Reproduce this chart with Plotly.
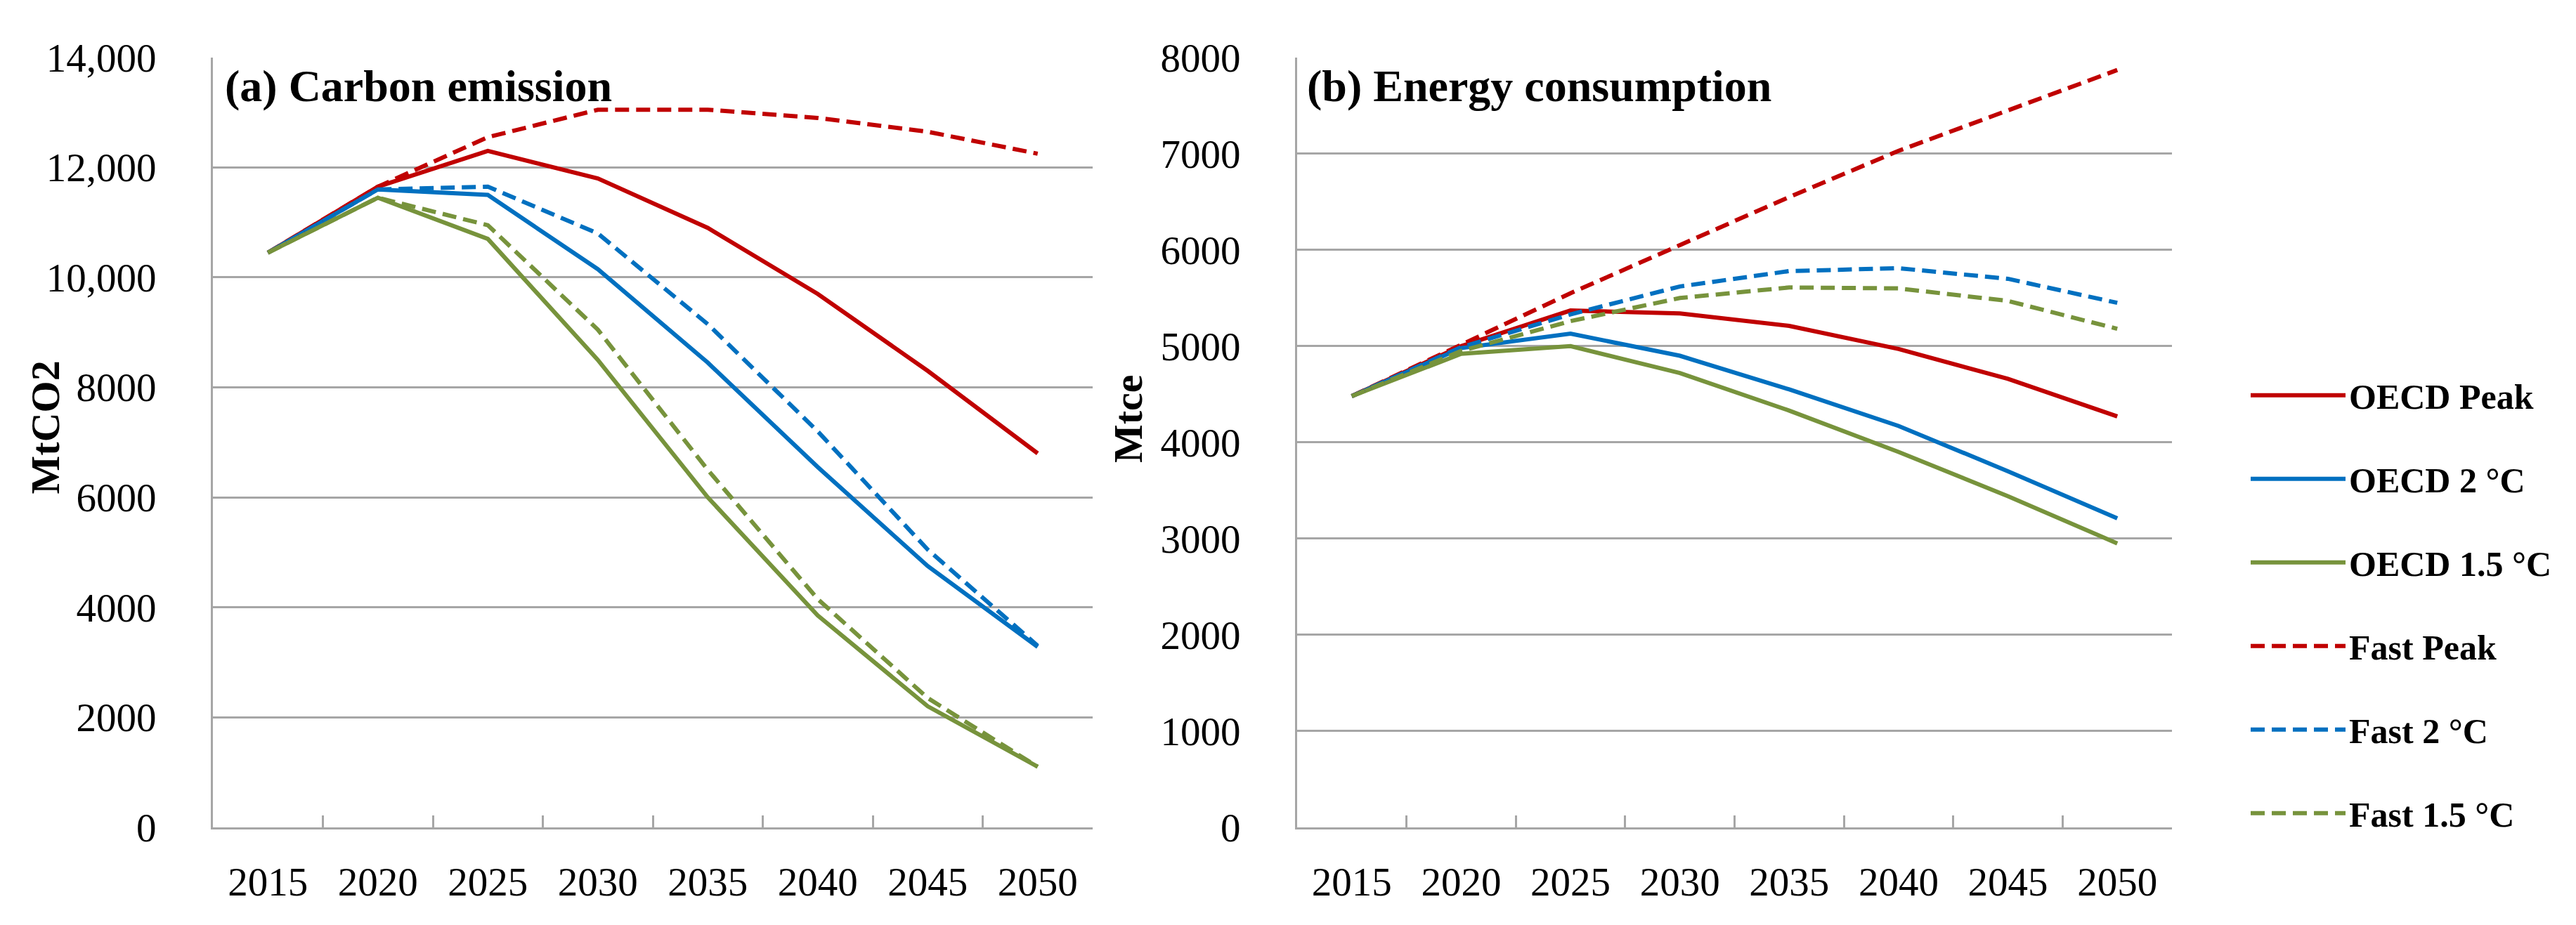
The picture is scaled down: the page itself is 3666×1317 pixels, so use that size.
import plotly.graph_objects as go

years = ["2015", "2020", "2025", "2030", "2035", "2040", "2045", "2050"]
series_names = ["OECD Peak", "OECD 2 °C", "OECD 1.5 °C", "Fast Peak", "Fast 2 °C", "Fast 1.5 °C"]

# (a) Carbon emission, MtCO2
carbon_oecd_peak = [10450, 11650, 12300, 11800, 10900, 9700, 8300, 6800]
carbon_oecd_2c = [10450, 11600, 11500, 10150, 8450, 6550, 4750, 3280]
carbon_oecd_15c = [10450, 11450, 10700, 8500, 6000, 3850, 2200, 1100]
carbon_fast_peak = [10450, 11650, 12550, 13050, 13050, 12900, 12650, 12250]
carbon_fast_2c = [10450, 11600, 11650, 10800, 9150, 7200, 5050, 3300]
carbon_fast_15c = [10450, 11450, 10950, 9050, 6500, 4150, 2350, 1100]

# (b) Energy consumption, Mtce
energy_oecd_peak = [4480, 5000, 5370, 5340, 5210, 4970, 4660, 4270]
energy_oecd_2c = [4480, 4980, 5130, 4900, 4550, 4170, 3700, 3210]
energy_oecd_15c = [4480, 4920, 5000, 4720, 4330, 3900, 3440, 2950]
energy_fast_peak = [4480, 5020, 5550, 6050, 6550, 7030, 7450, 7870]
energy_fast_2c = [4480, 4990, 5330, 5620, 5780, 5810, 5700, 5450]
energy_fast_15c = [4480, 4950, 5260, 5500, 5610, 5600, 5470, 5180]

carbon_ticks = [0, 2000, 4000, 6000, 8000, 10000, 12000, 14000]
carbon_ticktext = ["0", "2000", "4000", "6000", "8000", "10,000", "12,000", "14,000"]
energy_ticks = [0, 1000, 2000, 3000, 4000, 5000, 6000, 7000, 8000]
energy_ticktext = ["0", "1000", "2000", "3000", "4000", "5000", "6000", "7000", "8000"]

colors = ["#C00000", "#0070C0", "#77933C", "#C00000", "#0070C0", "#77933C"]
dashes = ["solid", "solid", "solid", "20px,10px", "20px,10px", "20px,10px"]

carbon = [carbon_oecd_peak, carbon_oecd_2c, carbon_oecd_15c,
          carbon_fast_peak, carbon_fast_2c, carbon_fast_15c]
energy = [energy_oecd_peak, energy_oecd_2c, energy_oecd_15c,
          energy_fast_peak, energy_fast_2c, energy_fast_15c]

FONT = "Liberation Serif"
W, H = 3666, 1317

fig = go.Figure()
for i, name in enumerate(series_names):
    fig.add_trace(go.Scatter(
        x=years, y=carbon[i], name=name, mode="lines",
        line=dict(color=colors[i], width=6, dash=dashes[i]),
        xaxis="x", yaxis="y", showlegend=True, legendgroup=f"g{i}"))
for i, name in enumerate(series_names):
    fig.add_trace(go.Scatter(
        x=years, y=energy[i], name=name, mode="lines",
        line=dict(color=colors[i], width=6, dash=dashes[i]),
        xaxis="x2", yaxis="y2", showlegend=False, legendgroup=f"g{i}"))

grid = "#A6A6A6"
xcommon = dict(type="category", tickson="boundaries", ticks="inside", ticklen=17,
               tickcolor=grid, tickwidth=3, showline=True, linecolor=grid, linewidth=3,
               showgrid=False, tickfont=dict(family=FONT, size=57, color="black"),
               ticklabelstandoff=26, range=[-0.5, 7.5], fixedrange=True)
ycommon = dict(showgrid=True, gridcolor=grid, gridwidth=3, showline=True, linecolor=grid,
               linewidth=3, ticks="", zeroline=False,
               tickfont=dict(family=FONT, size=57, color="black"),
               ticklabelstandoff=66)

fig.update_layout(
    width=W, height=H,
    margin=dict(l=0, r=0, t=0, b=0),
    paper_bgcolor="white", plot_bgcolor="white",
    xaxis=dict(domain=[295 / W, 1547 / W], anchor="y", **xcommon),
    yaxis=dict(domain=[1 - 1196 / H, 1 - 45 / H], anchor="x", range=[0, 14000],
               tickvals=carbon_ticks, ticktext=carbon_ticktext, **ycommon),
    xaxis2=dict(domain=[1838 / W, 3083 / W], anchor="y2", **xcommon),
    yaxis2=dict(domain=[1 - 1196 / H, 1 - 45 / H], anchor="x2", range=[0, 8000],
                tickvals=energy_ticks, ticktext=energy_ticktext, **ycommon),
    legend=dict(x=3190 / W, y=1 - 509 / H, xanchor="left", yanchor="top",
                font=dict(family=FONT, size=50, color="black", weight="bold"),
                itemwidth=135, tracegroupgap=51, bgcolor="rgba(0,0,0,0)"),
    showlegend=True,
    annotations=[
        dict(text="<b>(a) Carbon emission</b>", xref="paper", yref="paper",
             x=310 / W, y=1 - 48 / H, xanchor="left", yanchor="top", showarrow=False,
             font=dict(family=FONT, size=64, color="black")),
        dict(text="<b>(b) Energy consumption</b>", xref="paper", yref="paper",
             x=1850 / W, y=1 - 48 / H, xanchor="left", yanchor="top", showarrow=False,
             font=dict(family=FONT, size=64, color="black")),
        dict(text="<b>MtCO2</b>", xref="paper", yref="paper", textangle=-90,
             x=56 / W, y=1 - 598 / H, xanchor="center", yanchor="middle", showarrow=False,
             font=dict(family=FONT, size=58, color="black")),
        dict(text="<b>Mtce</b>", xref="paper", yref="paper", textangle=-90,
             x=1597 / W, y=1 - 585 / H, xanchor="center", yanchor="middle", showarrow=False,
             font=dict(family=FONT, size=58, color="black")),
    ],
)

fig.write_html("out.html")
